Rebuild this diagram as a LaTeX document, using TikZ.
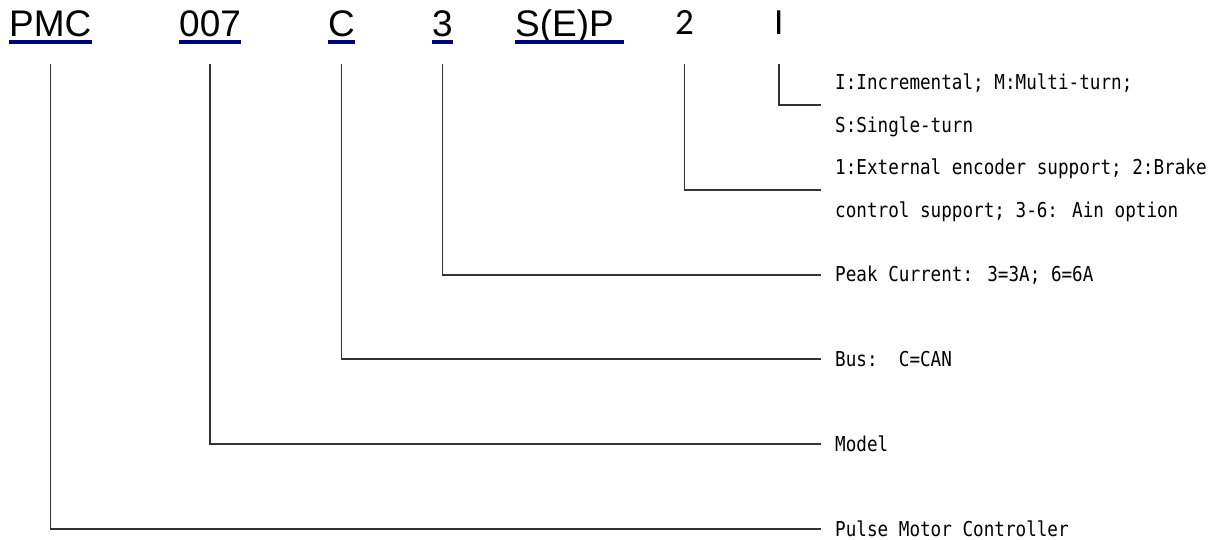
\documentclass[tikz,border=0pt]{standalone}
\usepackage{fontspec}
\setmainfont{Liberation Sans}
\newfontfamily\numfont{Carlito}
\newfontfamily\descfont{DejaVu Sans Mono}[FakeStretch=0.86]
\definecolor{ulblue}{HTML}{000080}

\begin{document}
\begin{tikzpicture}[x=1pt,y=-1pt,
    code/.style={anchor=base west,inner sep=0pt,font={\fontsize{37}{40}\selectfont}},
    plain/.style={code,font={\numfont\fontsize{37}{40}\selectfont}},
    desc/.style={anchor=west,inner sep=0pt,inner xsep=14pt,align=left,
      font={\descfont\fontsize{20.5}{43}\selectfont}},
    uline/.style={ulblue,line width=4pt},
    lead/.style={black!80,line width=1.4pt}]
  \useasboundingbox (0,0) rectangle (1228,540);

  % type code
  \node[code] (pmc) at (9,37) {PMC};
  \node[code] (mdl) at (179,37) {007};
  \node[code] (bus) at (328,37) {C};
  \node[code] (cur) at (432,37) {3};
  \node[code] (sep) at (515,37) {S(E)P};
  \node[plain] (opt) at (675,35) {2};
  \node[plain] (enc) at (774,35) {I};

  \draw[uline] ([yshift=-5.5pt]pmc.base west) -- ([yshift=-5.5pt]pmc.base east);
  \draw[uline] ([yshift=-5.5pt]mdl.base west) -- ([yshift=-5.5pt]mdl.base east);
  \draw[uline] ([yshift=-5.5pt]bus.base west) -- ([yshift=-5.5pt]bus.base east);
  \draw[uline] ([yshift=-5.5pt]cur.base west) -- ([yshift=-5.5pt]cur.base east);
  \draw[uline] ([yshift=-5.5pt]sep.base west) -- ([shift={(10pt,-5.5pt)}]sep.base east);

  % meanings
  \node[desc] (denc) at (821,105) {I:Incremental; M:Multi-turn;\\S:Single-turn};
  \node[desc] (dopt) at (821,190) {1:External encoder support; 2:Brake\\control support; 3-6: Ain option};
  \node[desc] (dcur) at (821,275) {Peak Current: 3=3A; 6=6A};
  \node[desc] (dbus) at (821,359) {Bus:\ \ C=CAN};
  \node[desc] (dmdl) at (821,444) {Model};
  \node[desc] (dpmc) at (821,529) {Pulse Motor Controller};

  \coordinate (top) at (0,64);
  \draw[lead] (enc.base |- top) |- (denc.west);
  \draw[lead] (opt.base |- top) |- (dopt.west);
  \draw[lead] (cur.base |- top) |- (dcur.west);
  \draw[lead] (bus.base |- top) |- (dbus.west);
  \draw[lead] (mdl.base |- top) |- (dmdl.west);
  \draw[lead] (pmc.base |- top) |- (dpmc.west);
\end{tikzpicture}
\end{document}
